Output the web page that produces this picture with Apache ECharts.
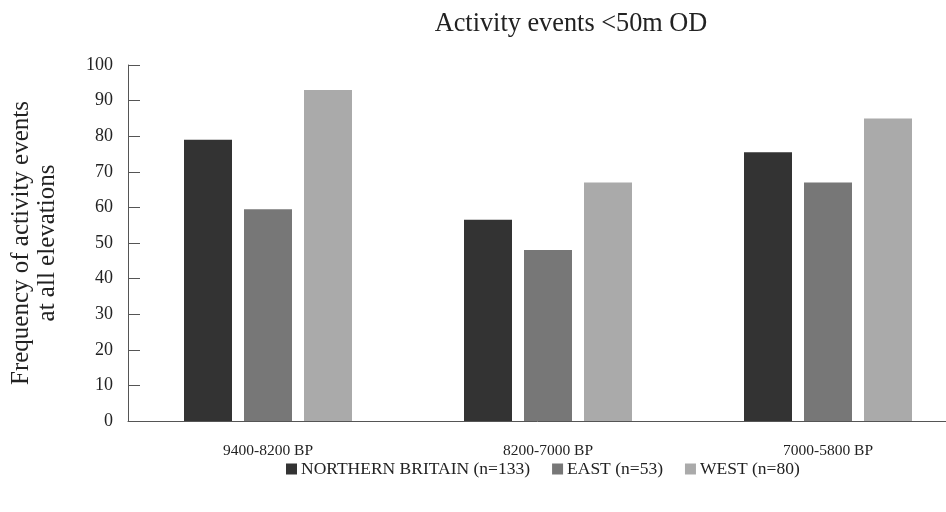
<!DOCTYPE html>
<html><head><meta charset="utf-8">
<script src="https://cdn.jsdelivr.net/npm/echarts@6/dist/echarts.min.js"></script>
<style>html,body{margin:0;padding:0;background:#fff}#c{width:946px;height:512px}</style>
</head><body><div id="c"></div>
<script>
var categories = ['9400-8200 BP', '8200-7000 BP', '7000-5800 BP'];
var seriesNames = ['NORTHERN BRITAIN (n=133)', 'EAST (n=53)', 'WEST (n=80)'];
var northern = [79, 56.5, 75.5];
var east = [59.5, 48, 67];
var west = [93, 67, 85];
var yTicks = [0, 100, 10];
var colors = ['#333333', '#777777', '#aaaaaa'];
var font = '"Liberation Serif", "Times New Roman", serif';
var chart = echarts.init(document.getElementById('c'));
var vals = [northern, east, west];
chart.setOption({
  animation: false,
  title: {text: 'Activity events <50m OD', left: 566, top: 6, textAlign: 'center',
    textStyle: {fontFamily: font, fontSize: 26.3, fontWeight: 'normal', color: '#222'}},
  legend: {top: 455, left: 281, itemWidth: 11, itemHeight: 11, itemGap: 22,
    icon: 'rect', textStyle: {fontFamily: font, fontSize: 17.5, color: '#222', padding: [0, 0, 0, -1]},
    data: seriesNames},
  grid: {left: 128, right: -22, top: 65, bottom: 91, containLabel: false, outerBoundsMode: 'none'},
  xAxis: {type: 'category', data: categories,
    axisLine: {lineStyle: {color: '#555', width: 1}}, axisTick: {show: false},
    axisLabel: {fontFamily: font, fontSize: 15.5, color: '#222', margin: 22}},
  yAxis: {type: 'value', min: yTicks[0], max: yTicks[1], interval: yTicks[2],
    name: 'Frequency of activity events\nat all elevations', nameLocation: 'middle', nameGap: 68,
    nameTextStyle: {fontFamily: font, fontSize: 25, color: '#222', lineHeight: 26},
    axisLine: {show: true, lineStyle: {color: '#555'}},
    axisTick: {show: true, inside: true, length: 12, lineStyle: {color: '#555'}},
    splitLine: {show: false},
    axisLabel: {fontFamily: font, fontSize: 18, color: '#222', margin: 15}},
  series: seriesNames.map(function(n, i){
    return {name: n, type: 'bar', data: vals[i], barWidth: 48, barGap: '25%',
      itemStyle: {color: colors[i]}};
  })
});
</script></body></html>
